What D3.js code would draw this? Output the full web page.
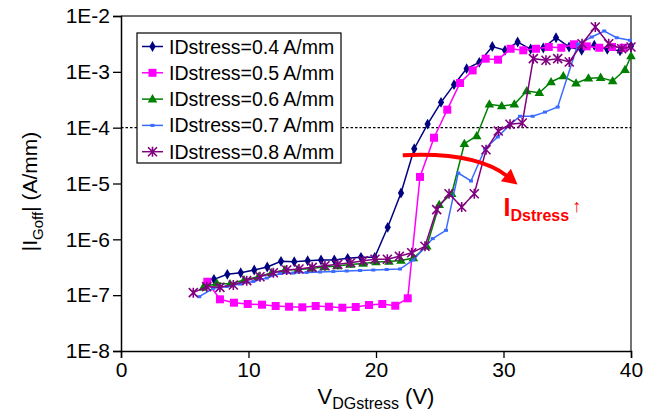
<!DOCTYPE html>
<html>
<head>
<meta charset="utf-8">
<script src="https://cdn.jsdelivr.net/npm/d3@7"></script>
<style>
  body { margin: 0; background: #fff; }
  svg { display: block; font-family: "Liberation Sans", Arial, sans-serif; }
</style>
</head>
<body>
<div id="chart"></div>
<script>
// data (V in volts, I in A/mm)
const v04 = [7.29, 8.34, 9.39, 10.45, 11.47, 12.55, 13.59, 14.64, 15.69, 16.73, 17.78, 18.82, 19.9, 20.92, 21.96, 23.0, 24.05, 25.1, 26.12, 27.11, 28.1, 29.12, 30.12, 31.11, 32.13, 33.12, 34.12, 35.14, 36.13, 37.12, 38.14, 39.14, 40.0];
const i04 = [1.92e-7, 2.36e-7, 2.52e-7, 2.82e-7, 3.19e-7, 4.04e-7, 3.97e-7, 4.14e-7, 4.27e-7, 4.27e-7, 4.57e-7, 4.76e-7, 4.76e-7, 1.64e-6, 6.76e-6, 4.2e-5, 1.16e-4, 2.84e-4, 5.89e-4, 1.14e-3, 1.48e-3, 2.84e-3, 2.43e-3, 3.42e-3, 2.56e-3, 2.67e-3, 4.08e-3, 2.79e-3, 2.43e-3, 2.99e-3, 2.54e-3, 2.39e-3, 2.9e-3];

const v05 = [6.77, 7.76, 8.86, 9.94, 11.06, 12.13, 13.18, 14.22, 15.27, 16.31, 17.36, 18.41, 19.45, 20.49, 21.51, 22.49, 23.45, 24.55, 25.59, 26.59, 27.58, 28.6, 29.57, 30.56, 31.55, 32.55, 33.55, 34.53, 35.53, 36.53, 37.51, 38.51, 39.4];
const i05 = [1.74e-7, 8.43e-8, 7.33e-8, 6.95e-8, 6.75e-8, 6.4e-8, 6.21e-8, 6.06e-8, 6.4e-8, 6.21e-8, 5.96e-8, 6.14e-8, 6.67e-8, 6.95e-8, 6.47e-8, 8.79e-8, 1.31e-5, 6.6e-5, 2.1e-4, 6.31e-4, 1.06e-3, 1.72e-3, 1.65e-3, 2.59e-3, 2.43e-3, 2.59e-3, 2.79e-3, 2.7e-3, 3.11e-3, 2.86e-3, 2.7e-3, 2.79e-3, 2.7e-3];

const v06 = [6.45, 7.51, 8.55, 9.65, 10.77, 11.82, 12.86, 13.88, 14.9, 15.92, 16.94, 17.96, 18.98, 20.0, 21.02, 21.96, 22.93, 23.98, 24.96, 25.94, 26.93, 27.9, 28.89, 29.86, 30.85, 31.82, 32.81, 33.73, 34.69, 35.69, 36.66, 37.62, 38.56, 39.53, 40.0];
const i06 = [1.38e-7, 1.63e-7, 1.58e-7, 1.87e-7, 2.14e-7, 2.52e-7, 2.82e-7, 2.88e-7, 3.0e-7, 3.19e-7, 3.33e-7, 3.54e-7, 3.69e-7, 3.93e-7, 4.01e-7, 4.18e-7, 4.62e-7, 7.5e-7, 4.17e-6, 6.56e-6, 5.16e-5, 7.1e-5, 2.62e-4, 2.44e-4, 2.62e-4, 4.54e-4, 4.23e-4, 6.58e-4, 8.41e-4, 6.24e-4, 7.66e-4, 7.87e-4, 6.86e-4, 1.09e-3, 1.92e-3];

const v07 = [6.14, 7.24, 8.29, 9.33, 10.38, 11.43, 12.47, 13.51, 14.56, 15.61, 16.65, 17.7, 18.75, 19.79, 20.84, 21.88, 22.93, 24.45, 25.49, 26.45, 27.45, 28.55, 29.55, 30.45, 31.29, 32.29, 33.25, 34.25, 35.84, 36.92, 37.9, 38.88, 39.92];
const i07 = [9.38e-8, 1.33e-7, 1.43e-7, 1.58e-7, 1.76e-7, 2.03e-7, 2.44e-7, 2.49e-7, 2.55e-7, 2.6e-7, 2.65e-7, 2.71e-7, 2.77e-7, 2.82e-7, 2.88e-7, 2.94e-7, 4.27e-7, 1.03e-6, 1.45e-6, 1.54e-5, 1.11e-5, 4.2e-5, 6.81e-5, 1.1e-4, 1.6e-4, 1.6e-4, 1.9e-4, 2.34e-4, 3.15e-3, 4.2e-3, 5.39e-3, 4.08e-3, 3.67e-3];

const v08 = [5.67, 6.72, 7.76, 8.81, 9.86, 10.9, 11.95, 13.0, 13.96, 15.0, 16.0, 17.0, 18.02, 19.0, 19.92, 20.89, 21.83, 22.8, 23.84, 24.76, 25.73, 26.72, 27.71, 28.63, 29.59, 30.51, 31.47, 32.34, 33.33, 34.25, 35.16, 36.16, 37.2, 38.25, 39.27, 40.0];
const i08 = [1.11e-7, 1.42e-7, 1.38e-7, 1.52e-7, 1.82e-7, 2.14e-7, 2.52e-7, 2.82e-7, 2.94e-7, 3.15e-7, 3.37e-7, 3.57e-7, 3.81e-7, 4.14e-7, 4.39e-7, 4.39e-7, 4.97e-7, 5.76e-7, 7.5e-7, 3.4e-6, 6.56e-6, 3.79e-6, 6.56e-6, 4.03e-5, 8.71e-5, 1.15e-4, 1.21e-4, 1.72e-3, 1.61e-3, 1.72e-3, 1.5e-3, 3.19e-3, 6.35e-3, 3.19e-3, 2.59e-3, 2.79e-3];

const seriesNames = ["IDstress=0.4 A/mm", "IDstress=0.5 A/mm", "IDstress=0.6 A/mm", "IDstress=0.7 A/mm", "IDstress=0.8 A/mm"];
const xTicks = [0, 10, 20, 30, 40];
const yTicks = [1e-8, 1e-7, 1e-6, 1e-5, 1e-4, 1e-3, 1e-2];
const refLevel = 1e-4;

const series = [
    { name: seriesNames[0], v: v04, i: i04, color: "#000080", marker: "diamond" },
    { name: seriesNames[1], v: v05, i: i05, color: "#ff00ff", marker: "square" },
    { name: seriesNames[2], v: v06, i: i06, color: "#008000", marker: "triangle" },
    { name: seriesNames[3], v: v07, i: i07, color: "#3a6bff", marker: "dash" },
    { name: seriesNames[4], v: v08, i: i08, color: "#800080", marker: "star" }
];

const W = 654, H = 415;
const margin = { top: 16, right: 23, bottom: 64, left: 121 };
const width = W - margin.left - margin.right;
const height = H - margin.top - margin.bottom;

const svg = d3.select("#chart").append("svg")
    .attr("width", W)
    .attr("height", H);

const g = svg.append("g")
    .attr("transform", "translate(" + margin.left + "," + margin.top + ")");

const x = d3.scaleLinear().domain([0, 40]).range([0, width]);
const y = d3.scaleLog().domain([1e-8, 1e-2]).range([height, 0]);

// frame (top/right in dark grey)
g.append("path")
    .attr("d", "M0,0H" + width + "V" + height)
    .attr("fill", "none")
    .attr("stroke", "#444")
    .attr("stroke-width", 1.5);

// dotted 1E-4 line
g.append("line")
    .attr("x1", 0).attr("x2", width)
    .attr("y1", y(refLevel)).attr("y2", y(refLevel))
    .attr("stroke", "#000")
    .attr("stroke-width", 1.2)
    .attr("stroke-dasharray", "2.5,2");

///////////
/// Axes ///
///////////

const xAxis = g.append("g")
    .attr("transform", "translate(0," + height + ")")
    .call(d3.axisBottom(x).tickValues(xTicks).tickSize(7).tickPadding(4));

const yAxis = g.append("g")
    .call(d3.axisLeft(y).tickValues(yTicks).tickSize(8).tickPadding(3)
        .tickFormat(d => "1E" + Math.round(Math.log10(d))));

[xAxis, yAxis].forEach(a => {
    a.select(".domain").attr("stroke", "#000").attr("stroke-width", 1.5);
    a.selectAll(".tick line").attr("stroke", "#000").attr("stroke-width", 1.3);
    a.selectAll(".tick text")
        .attr("fill", "#000")
        .style("font-family", "'Liberation Sans', Arial, sans-serif")
        .style("font-size", "21px");
});

//////////////
/// Labels ///
//////////////

const xt = svg.append("text")
    .attr("x", margin.left + x(20))
    .attr("y", 404)
    .attr("text-anchor", "middle")
    .style("font-size", "22px");
xt.append("tspan").text("V");
xt.append("tspan").attr("dy", 5).style("font-size", "16px").text("DGstress");
xt.append("tspan").attr("dy", -5).text(" (V)");

const yt = svg.append("text")
    .attr("transform", "translate(37," + (margin.top + height / 2 + 8) + ") rotate(-90)")
    .attr("text-anchor", "middle")
    .style("font-size", "21px");
yt.append("tspan").text("|I");
yt.append("tspan").attr("dy", 6).style("font-size", "15px").text("Goff");
yt.append("tspan").attr("dy", -6).text("| (A/mm)");

//////////////
/// Shapes ///
//////////////

function drawMarker(sel, type, color, cx, cy) {
    if (type === "diamond") {
        sel.append("path").attr("d", d3.symbol(d3.symbolDiamond, 34)())
            .attr("transform", "translate(" + cx + "," + cy + ")").attr("fill", color);
    } else if (type === "square") {
        sel.append("rect").attr("x", cx - 4).attr("y", cy - 4).attr("width", 8).attr("height", 8)
            .attr("fill", color);
    } else if (type === "triangle") {
        sel.append("path").attr("d", d3.symbol(d3.symbolTriangle, 40)())
            .attr("transform", "translate(" + cx + "," + (cy + 0.5) + ")").attr("fill", color);
    } else if (type === "dash") {
        sel.append("rect").attr("x", cx - 2).attr("y", cy - 1.5).attr("width", 4).attr("height", 3)
            .attr("fill", color);
    } else if (type === "star") {
        const r = 4.5;
        const p = "M" + (cx - r) + "," + (cy - r) + "L" + (cx + r) + "," + (cy + r) +
            "M" + (cx - r) + "," + (cy + r) + "L" + (cx + r) + "," + (cy - r) +
            "M" + cx + "," + (cy - r - 0.5) + "L" + cx + "," + (cy + r + 0.5);
        sel.append("path").attr("d", p).attr("stroke", color).attr("stroke-width", 1.6).attr("fill", "none");
    }
}

const line = d3.line().x(d => x(d[0])).y(d => y(d[1]));

series.forEach(s => {
    const pts = s.v.map((v, k) => [v, s.i[k]]);
    const sg = g.append("g");
    sg.append("path")
        .datum(pts)
        .attr("d", line)
        .attr("fill", "none")
        .attr("stroke", s.color)
        .attr("stroke-width", 1.5);
    pts.forEach(p => drawMarker(sg, s.marker, s.color, x(p[0]), y(p[1])));
});

//////////////////
/// Annotation ///
//////////////////

const arrowPath = d3.path();
arrowPath.moveTo(x(22.1), y(3.2e-5));
arrowPath.bezierCurveTo(x(26.6), y(3.6e-5), x(29.0), y(2.3e-5), x(30.3), y(1.35e-5));
g.append("path")
    .attr("d", arrowPath.toString())
    .attr("fill", "none")
    .attr("stroke", "#ff0000")
    .attr("stroke-width", 4);

const tipX = x(31.1), tipY = y(9.6e-6);
const ang = Math.atan2(tipY - y(1.35e-5), tipX - x(30.3));
const hl = 15, hw = 8;
const bx = tipX - hl * Math.cos(ang), by = tipY - hl * Math.sin(ang);
g.append("path")
    .attr("d", "M" + tipX + "," + tipY +
        "L" + (bx - hw * Math.sin(ang)) + "," + (by + hw * Math.cos(ang)) +
        "L" + (bx + hw * Math.sin(ang)) + "," + (by - hw * Math.cos(ang)) + "Z")
    .attr("fill", "#ff0000");

const lab = g.append("text")
    .attr("x", x(30.0))
    .attr("y", y(2.6e-6))
    .attr("fill", "#ff0000")
    .style("font-size", "25px")
    .style("font-weight", "bold");
lab.append("tspan").text("I");
lab.append("tspan").attr("dy", 5).style("font-size", "16px").text("Dstress");
lab.append("tspan").attr("dy", -9).attr("dx", 3).style("font-size", "18px").style("font-weight", "normal").text("\u2191");

//////////////
/// Legend ///
//////////////

const lg = svg.append("g").attr("transform", "translate(137,33)");
lg.append("rect")
    .attr("width", 204).attr("height", 130)
    .attr("fill", "#fff")
    .attr("stroke", "#000")
    .attr("stroke-width", 1.2);

series.forEach((s, k) => {
    const ry = 13.5 + k * 26.3;
    lg.append("line")
        .attr("x1", 5).attr("x2", 26)
        .attr("y1", ry).attr("y2", ry)
        .attr("stroke", s.color).attr("stroke-width", 1.5);
    drawMarker(lg, s.marker, s.color, 15.5, ry);
    lg.append("text")
        .attr("x", 32).attr("y", ry + 7)
        .style("font-size", "19.5px")
        .text(s.name);
});
</script>
</body>
</html>
